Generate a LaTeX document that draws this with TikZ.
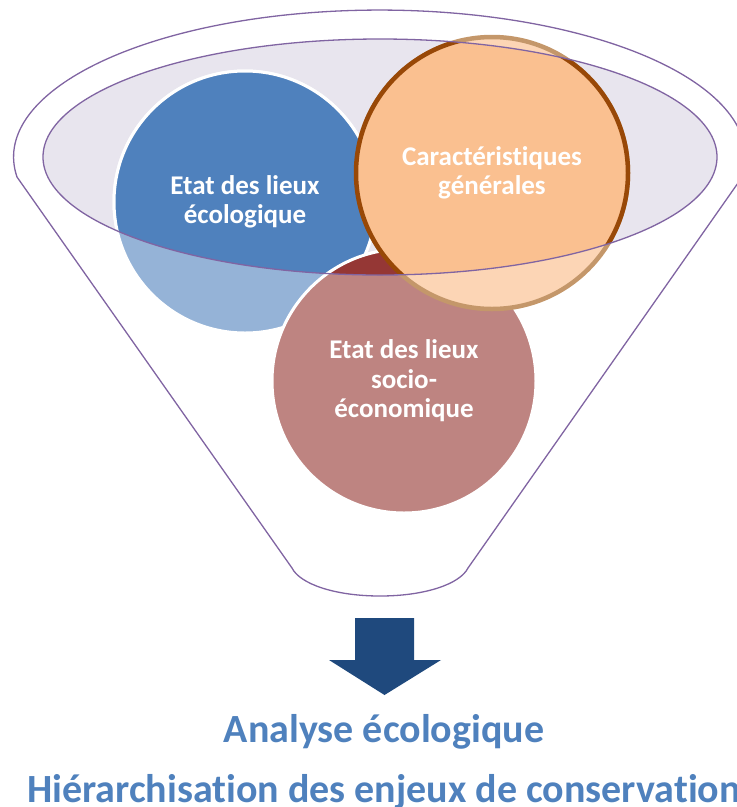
\documentclass[tikz,border=0pt]{standalone}
\usepackage{fontspec}
\setmainfont{Carlito}[Ligatures=CommonOff]
\usetikzlibrary{positioning}

\definecolor{bleufonce}{HTML}{4F81BD}
\definecolor{bleuclair}{HTML}{95B3D7}
\definecolor{rougefonce}{HTML}{953735}
\definecolor{rougeclair}{HTML}{BE8481}
\definecolor{orangefonce}{HTML}{FAC090}
\definecolor{orangeclair}{HTML}{FCD5B5}
\definecolor{brunfonce}{HTML}{984807}
\definecolor{brunclair}{HTML}{C4976A}
\definecolor{lavande}{HTML}{E8E5EE}
\definecolor{violet}{HTML}{8064A2}
\definecolor{fleche}{HTML}{1F497D}

\begin{document}
\begin{tikzpicture}[x=1pt,y=-1pt]

% cadre de l'image
\useasboundingbox (0,0) rectangle (737,807);

% style des bulles
\tikzset{bulle/.style={circle, inner sep=0pt, line width=3pt, draw=white, fill=#1}}
% style du texte dans les bulles et des titres
\tikzset{texte/.style={text=white, align=center, font=\bfseries\fontsize{27}{29.5}\selectfont}}
\tikzset{titre/.style={text=bleufonce, anchor=base, font=\bfseries\fontsize{40}{48}\selectfont}}
\tikzset{trait/.style={draw=violet, line width=1.3pt}}

%Fond de l'ellipse du haut
\fill[lavande] (380,157) ellipse [x radius=337pt, y radius=118pt];

%Bulles, partie hors de l'ellipse
\node[bulle=bleuclair, minimum size=262pt] (eco) at (245,202) {};
\node[bulle=rougeclair, minimum size=264pt] (socio) at (404,381) {};
\node[bulle=orangeclair, draw=brunclair, line width=4.5pt, minimum size=272pt] (carac) at (492,173) {};

%Bulles, partie dans l'ellipse
\begin{scope}
\clip (380,157) ellipse [x radius=337pt, y radius=118pt];
\foreach \n/\col/\bord/\r/\w in {eco/bleufonce/white/131/3, socio/rougefonce/white/132/3, carac/orangefonce/brunfonce/136/4.5}
\filldraw[fill=\col, draw=\bord, line width=\w pt] (\n.center) circle [radius=\r pt];
\end{scope}

%Contour de l'ellipse
\draw[trait] (380,157) ellipse [x radius=337pt, y radius=118pt];

%Entonnoir
\draw[trait] (17,177) arc [start angle=187.8, end angle=-7.8, x radius=366pt, y radius=147pt]
  -- (468,568) .. controls (460,584) and (425,596) .. (380,596)
  .. controls (335,596) and (300,584) .. (292,568) -- cycle;

%Texte des bulles
\node[texte] (t-eco) at (eco) {Etat des lieux\\écologique};
\node[texte] (t-carac) at (carac) {Caractéristiques\\générales};
\node[texte] (t-socio) at (socio) {Etat des lieux\\socio-\\économique};

%Flèche
\fill[fleche] (355,618) -- (414,618) -- (414,660) -- (441,660) -- (384.5,695) -- (329,660) -- (355,660) -- cycle;

%Conclusions
\node[titre] (analyse) at (384,742) {Analyse écologique};
\node[titre] (enjeux) at (384,802) {Hiérarchisation des enjeux de conservation};

\end{tikzpicture}
\end{document}
